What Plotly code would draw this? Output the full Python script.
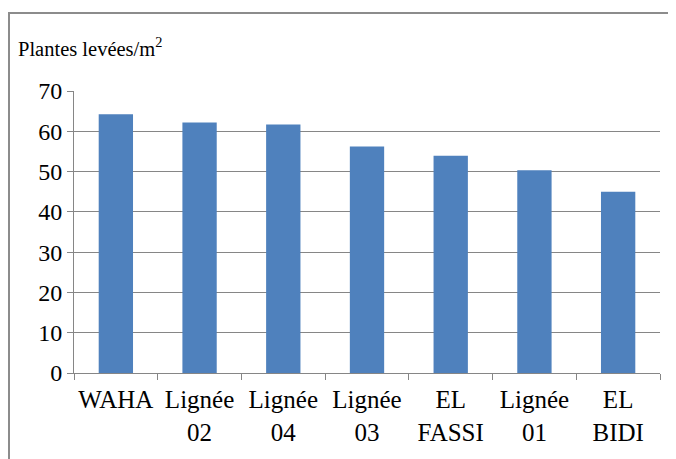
import plotly.graph_objects as go

categories = ["WAHA", "Lignée<br>02", "Lignée<br>04", "Lignée<br>03", "EL<br>FASSI", "Lignée<br>01", "EL<br>BIDI"]
values = [64.2, 62.2, 61.7, 56.2, 53.9, 50.3, 45.0]
y_ticks = [0, 10, 20, 30, 40, 50, 60, 70]

SERIF = "Liberation Serif"

W, H = 676, 459
OFF = 8  # page body margin offset
# desired on-screen plot area: x 74..660, y 91..373
L = 74 - OFF
R = W - (660 - OFF)
T = 91 - OFF
B = H - (373 - OFF)
pw, ph = W - L - R, H - T - B

def px(x):
    return (x - OFF - L) / pw

def py(y):
    return (H - B - (y - OFF)) / ph

fig = go.Figure(go.Bar(
    x=categories, y=values,
    marker=dict(color="#4F81BD", line=dict(width=0)),
    width=0.41,
))

fig.update_layout(
    width=W, height=H,
    margin=dict(l=L, r=R, t=T, b=B),
    paper_bgcolor="white", plot_bgcolor="white",
    font=dict(family=SERIF, color="black", size=24),
    showlegend=False,
    xaxis=dict(
        type="category", range=[-0.5, 6.5],
        showline=True, linecolor="#868686", linewidth=1,
        ticks="outside", tickson="boundaries", ticklen=6, tickcolor="#868686",
        showgrid=False, tickfont=dict(size=25, family=SERIF, color="black"),
        tickangle=0, automargin=False, ticklabelstandoff=4,
    ),
    yaxis=dict(
        range=[0, 70], tickvals=y_ticks,
        showline=True, linecolor="#868686", linewidth=1,
        ticks="outside", ticklen=6, tickcolor="#868686",
        showgrid=True, gridcolor="#868686", gridwidth=1,
        zeroline=False, tickfont=dict(size=24, family=SERIF, color="black"),
        automargin=False,
    ),
    annotations=[dict(
        text="Plantes levées/m<sup>2</sup>", xref="paper", yref="paper",
        x=px(16), y=py(47), xanchor="left", yanchor="middle",
        showarrow=False, font=dict(size=20.5, family=SERIF, color="black"),
    )],
    shapes=[dict(
        type="rect", xref="paper", yref="paper",
        x0=px(9), x1=px(W + 30), y0=py(H + 30), y1=py(13),
        line=dict(color="#8c8c8c", width=2), fillcolor="rgba(0,0,0,0)",
    )],
)

fig.write_html("out.html")
